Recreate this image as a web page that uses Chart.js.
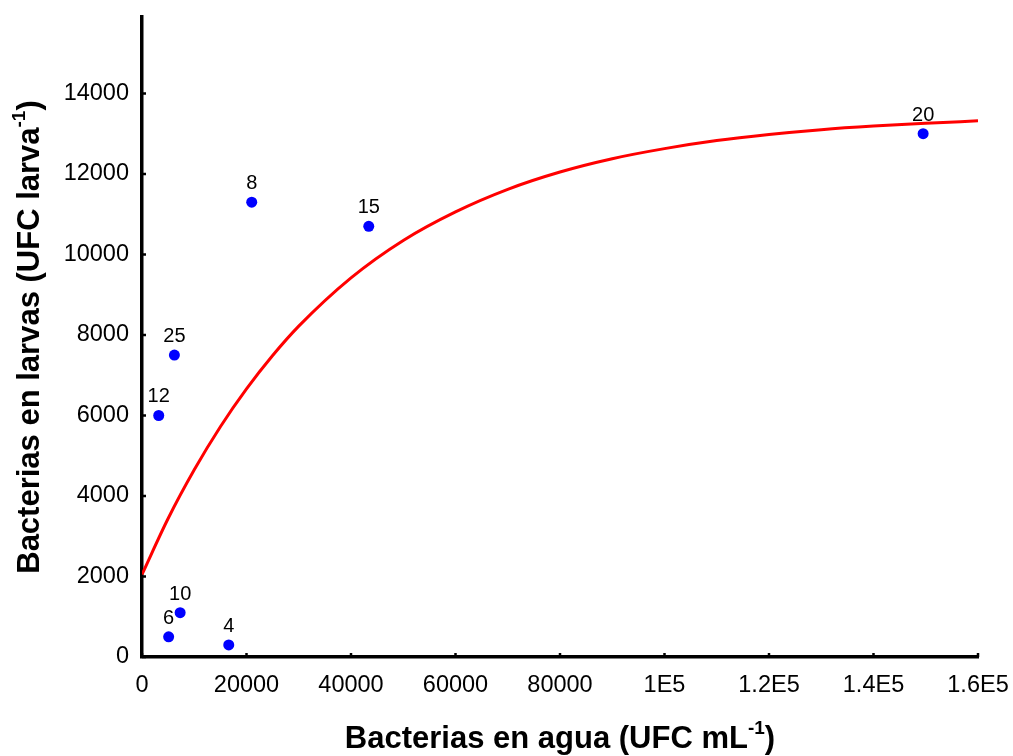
<!DOCTYPE html>
<html>
<head>
<meta charset="utf-8">
<script src="https://cdn.jsdelivr.net/npm/chart.js@4"></script>
<style>
  html, body { margin: 0; padding: 0; background: #fff; }
</style>
</head>
<body>
<canvas id="chart" width="1013" height="756"></canvas>
<script>
// samples: bacteria in water vs bacteria in larvae
const waterCounts = [3200, 6200, 21000, 43400, 149500, 7300, 5100, 16600];
const larvaCounts = [6000, 7500, 11300, 10700, 13000, 1100, 500, 300];
const pointLabels = ['12', '25', '8', '15', '20', '10', '6', '4'];

// fitted curve
const fitX = [0, 5000, 10000, 15000, 20000, 25000, 30000, 40000, 50000, 60000, 70000,
              80000, 90000, 100000, 110000, 120000, 130000, 140000, 150000, 160000];
const fitY = [2050, 3440, 4650, 5720, 6660, 7490, 8220, 9420, 10350, 11060, 11620,
              12050, 12380, 12630, 12830, 12980, 13100, 13190, 13260, 13320];

const xTickValues = [0, 20000, 40000, 60000, 80000, 100000, 120000, 140000, 160000];
const xTickLabels = ['0', '20000', '40000', '60000', '80000', '1E5', '1.2E5', '1.4E5', '1.6E5'];
const yTickValues = [0, 2000, 4000, 6000, 8000, 10000, 12000, 14000];
const yTickLabels = ['0', '2000', '4000', '6000', '8000', '10000', '12000', '14000'];

const xTitle = 'Bacterias en agua (UFC mL';
const yTitle = 'Bacterias en larvas (UFC larva';
const titleSup = '-1';
const titleEnd = ')';

const FONT = '"Liberation Sans", Arial, sans-serif';

function drawTitle(ctx, main, cx, cy) {
    const big = 'bold 31px ' + FONT;
    const small = 'bold 19px ' + FONT;
    ctx.font = big;
    const w1 = ctx.measureText(main).width;
    const w3 = ctx.measureText(titleEnd).width;
    ctx.font = small;
    const w2 = ctx.measureText(titleSup).width;
    let x = cx - (w1 + w2 + w3) / 2;
    ctx.textAlign = 'left';
    ctx.textBaseline = 'alphabetic';
    ctx.font = big;
    ctx.fillText(main, x, cy);
    x += w1;
    ctx.font = small;
    ctx.fillText(titleSup, x, cy - 14);
    x += w2;
    ctx.font = big;
    ctx.fillText(titleEnd, x, cy);
}

const pointText = {
    id: 'pointText',
    beforeDatasetsDraw(chart) {
        const ctx = chart.ctx;
        const meta = chart.getDatasetMeta(1);
        ctx.save();
        ctx.fillStyle = '#000';
        ctx.font = '20px ' + FONT;
        ctx.textAlign = 'center';
        ctx.textBaseline = 'alphabetic';
        meta.data.forEach((pt, i) => {
            ctx.fillText(pointLabels[i], pt.x, pt.y - 13);
        });
        ctx.restore();
    }
};

const innerTicks = {
    id: 'innerTicks',
    afterDraw(chart) {
        const ctx = chart.ctx;
        const area = chart.chartArea;
        const xs = chart.scales.x, ys = chart.scales.y;
        ctx.save();
        ctx.strokeStyle = '#000';
        ctx.lineWidth = 2.5;
        ctx.beginPath();
        for (const v of xTickValues) {
            const px = xs.getPixelForValue(v);
            ctx.moveTo(px, area.bottom);
            ctx.lineTo(px, area.bottom - 4);
        }
        for (const v of yTickValues) {
            const py = ys.getPixelForValue(v);
            ctx.moveTo(area.left, py);
            ctx.lineTo(area.left + 4, py);
        }
        ctx.stroke();
        ctx.restore();
    }
};

const axisTitles = {
    id: 'axisTitles',
    afterDraw(chart) {
        const ctx = chart.ctx;
        const area = chart.chartArea;
        ctx.save();
        ctx.fillStyle = '#000';
        drawTitle(ctx, xTitle, (area.left + area.right) / 2, 748);
        ctx.translate(39, (area.top + area.bottom) / 2);
        ctx.rotate(-Math.PI / 2);
        drawTitle(ctx, yTitle, 0, 0);
        ctx.restore();
    }
};

new Chart(document.getElementById('chart'), {
    type: 'scatter',
    data: {
        datasets: [{
            data: fitX.map((x, i) => ({x: x, y: fitY[i]})),
            showLine: true,
            borderColor: '#ff0000',
            borderWidth: 3,
            pointRadius: 0,
            cubicInterpolationMode: 'monotone',
            fill: false
        }, {
            data: waterCounts.map((x, i) => ({x: x, y: larvaCounts[i]})),
            backgroundColor: '#0000ff',
            borderWidth: 0,
            pointRadius: 5.5
        }]
    },
    options: {
        responsive: false,
        animation: false,
        devicePixelRatio: 1,
        layout: {
            padding: {top: 17, right: 35, left: 0, bottom: 0}
        },
        plugins: {
            legend: {display: false},
            tooltip: {enabled: false}
        },
        scales: {
            x: {
                type: 'linear',
                min: 0,
                max: 160000,
                afterBuildTicks: s => { s.ticks = xTickValues.map(v => ({value: v})); },
                afterFit: s => {
                    s.height = 99;
                    s.paddingLeft = 0;
                    s.paddingRight = 0;
                },
                grid: {display: false, drawTicks: false},
                border: {display: true, color: '#000', width: 3.5},
                ticks: {
                    autoSkip: false,
                    maxRotation: 0,
                    padding: 14,
                    color: '#000',
                    font: {family: FONT, size: 23.5},
                    callback: (v, i) => xTickLabels[i]
                }
            },
            y: {
                type: 'linear',
                min: 0,
                max: 15900,
                afterBuildTicks: s => { s.ticks = yTickValues.map(v => ({value: v})); },
                afterFit: s => {
                    s.width = 142;
                    s.paddingTop = 0;
                    s.paddingBottom = 0;
                },
                grid: {display: false, drawTicks: false},
                border: {display: true, color: '#000', width: 3.5},
                ticks: {
                    autoSkip: false,
                    padding: 13,
                    color: '#000',
                    font: {family: FONT, size: 23.5},
                    callback: (v, i) => yTickLabels[i]
                }
            }
        }
    },
    plugins: [pointText, innerTicks, axisTitles]
});
</script>
</body>
</html>
